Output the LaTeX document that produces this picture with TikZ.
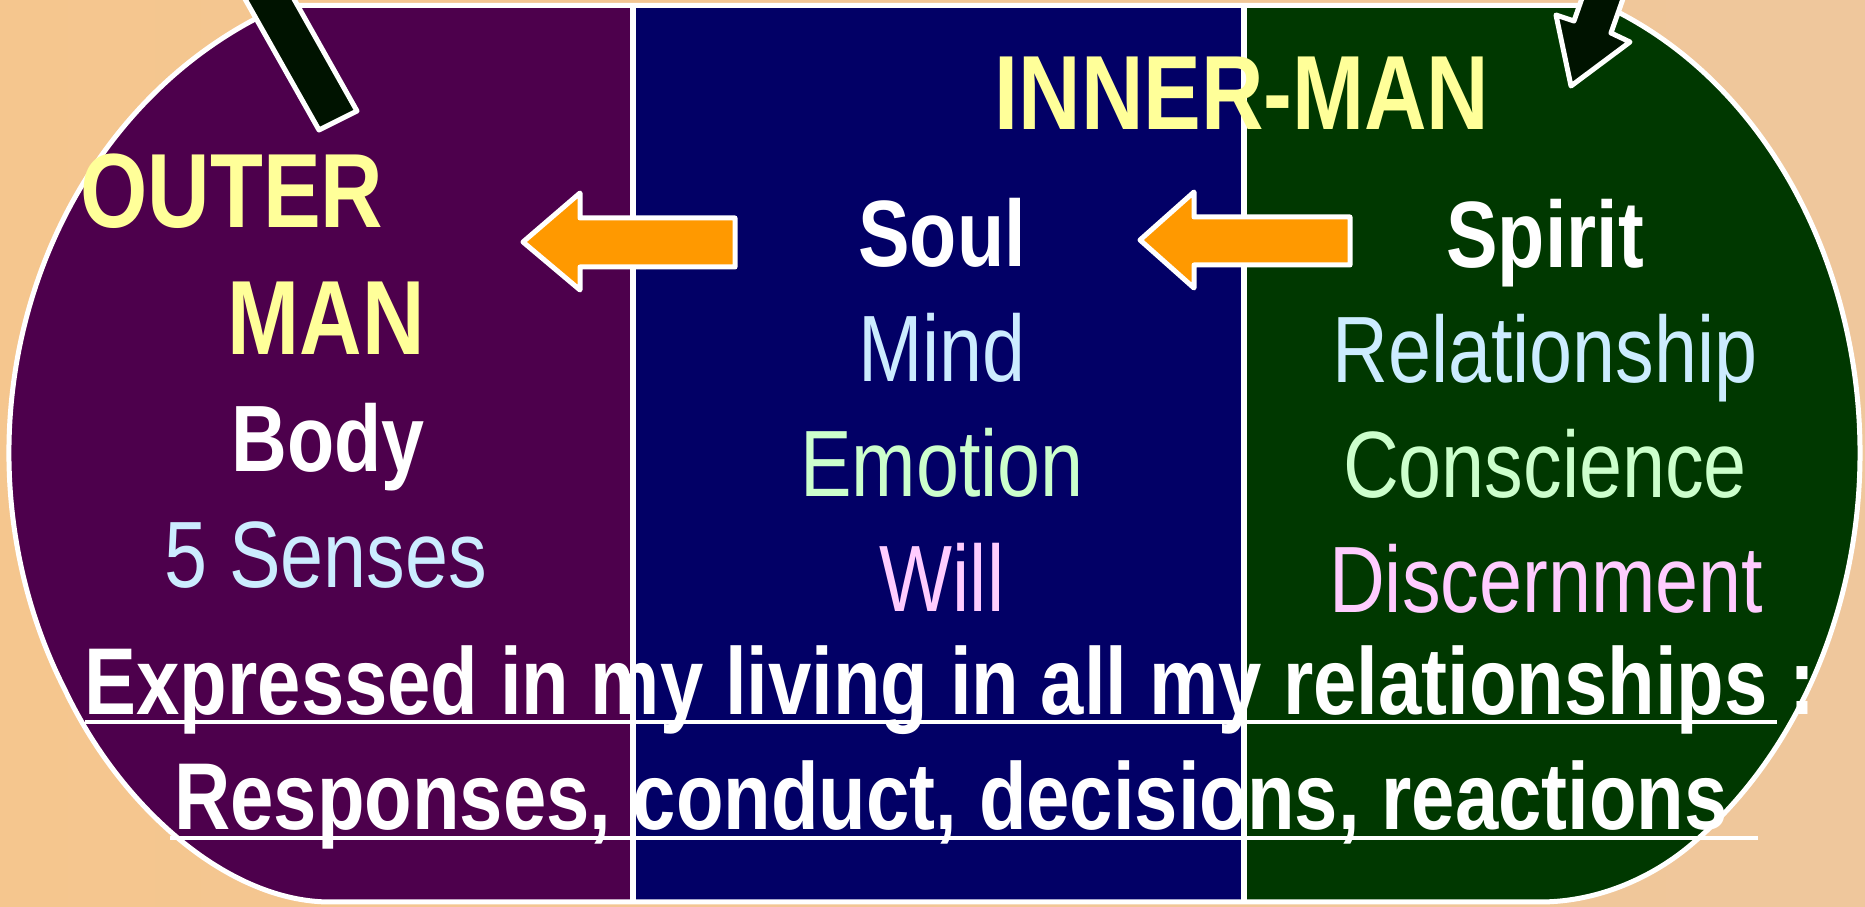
\documentclass[tikz,border=0pt]{standalone}
\usepackage{fontspec}
\setmainfont{Liberation Sans}[FakeStretch=0.82]

\definecolor{peach}{HTML}{EFC79C}
\definecolor{peachlight}{HTML}{F4D1A8}
\definecolor{peachdark}{HTML}{F5C68E}
\definecolor{bodypurple}{HTML}{4D004C}
\definecolor{soulblue}{HTML}{020066}
\definecolor{spiritgreen}{HTML}{003800}
\definecolor{stickgreen}{HTML}{001300}
\definecolor{arroworange}{HTML}{FF9900}
\definecolor{headyellow}{HTML}{FFFF99}
\definecolor{mindblue}{HTML}{CCECFF}
\definecolor{feelgreen}{HTML}{CCFFCC}
\definecolor{willpink}{HTML}{FFCCFF}

% outline of the whole man: two rounded sides cut by the top and bottom lines
\newcommand\manoutline{(283.5,5.5) -- (1604.6,5.5)
  arc[start angle=-68.8,end angle=54.34,x radius=400,y radius=480]
  .. controls (1655,876) and (1600,902) .. (1540,902)
  -- (330,902) .. controls (230,902) and (122,810) .. (65,690)
  arc[start angle=150.41,end angle=248.8,x radius=430,y radius=480] -- cycle}

\tikzset{
  heading/.style={text=headyellow,font=\fontsize{30}{36}\selectfont\bfseries},
  part/.style={text=white,font=\fontsize{26.8}{32}\selectfont\bfseries},
  faculty/.style={font=\fontsize{26.8}{32}\selectfont},
  summary/.style={text=white,font=\fontsize{27}{32}\selectfont\bfseries},
  whiteedge/.style={draw=white,line width=0.05cm,line join=round},
  blockarrow/.style={whiteedge,fill=arroworange},
  pointer/.style={whiteedge,fill=stickgreen},
}

\begin{document}
\begin{tikzpicture}[x=0.01cm,y=-0.01cm,every node/.style={inner sep=0pt,anchor=base}]
	\clip (0,0) rectangle (1865,907);
	\shade[left color=peachdark,middle color=peachlight,right color=peach] (0,0) rectangle (1865,907);
	\begin{scope}
		\clip \manoutline;
		\fill[bodypurple] (0,0) rectangle (633,907);
		\fill[soulblue] (633,0) rectangle (1244,907);
		\fill[spiritgreen] (1244,0) rectangle (1865,907);
	\end{scope}
	\draw[white,line width=0.065cm] (633,5.5) -- (633,902) (1244,5.5) -- (1244,902);
	\draw[whiteedge] \manoutline;
	% pointers coming in at the top
	\draw[pointer] (223,-40) -- (319,130) -- (357,111) -- (272,-40) -- cycle;
	\draw[pointer] (1607,-73) -- (1574,21) -- (1556,15) -- (1571,86) -- (1630,42) -- (1611,33) -- (1644,-61) -- cycle;
	% orange arrows
	\draw[blockarrow] (523,242) -- (580,193) -- (580,218) -- (735,218) -- (735,267) -- (580,267) -- (580,290) -- cycle;
	\draw[blockarrow] (1140,240) -- (1194,192) -- (1194,217) -- (1350,217) -- (1350,265) -- (1194,265) -- (1194,288) -- cycle;
	% headings
	\node[heading] (inner) at (1242,130) {INNER-MAN};
	\node[heading] (outer) at (232,228) {OUTER};
	\node[heading] (man) at (326,355) {MAN};
	% body
	\node[part] (body) at (328,472) {Body};
	\node[faculty,text=mindblue] (senses) at (326,588) {5 Senses};
	% soul
	\node[part] (soul) at (942,267) {Soul};
	\node[faculty,text=mindblue] (mind) at (942,382) {Mind};
	\node[faculty,text=feelgreen] (emotion) at (942,497) {Emotion};
	\node[faculty,text=willpink] (will) at (942,612) {Will};
	% spirit
	\node[part] (spirit) at (1545,268) {Spirit};
	\node[faculty,text=mindblue] (relation) at (1545,383) {Relationship};
	\node[faculty,text=feelgreen] (conscience) at (1545,498) {Conscience};
	\node[faculty,text=willpink] (discern) at (1546,613) {Discernment};
	% expressed in living
	\node[summary] (living) at (950,715) {Expressed in my living in all my relationships :};
	\node[summary] (responses) at (951,830) {Responses, conduct, decisions, reactions};
	\draw[white,line width=0.04cm] (85,722) -- (1777,722) (170,838) -- (1758,838);
\end{tikzpicture}
\end{document}
